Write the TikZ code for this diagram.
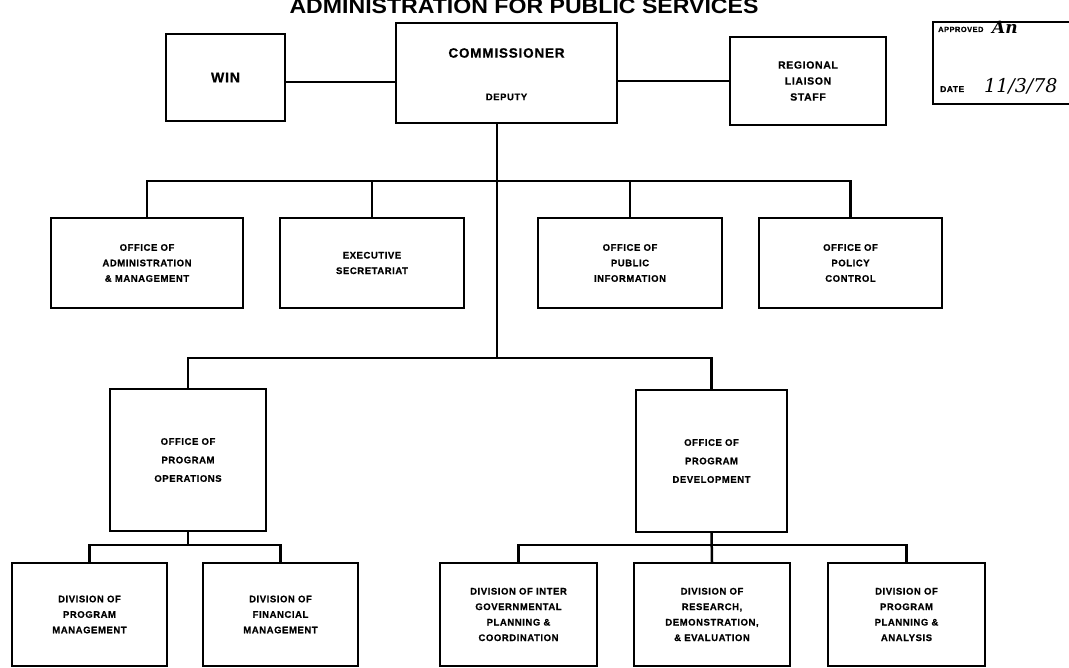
\documentclass[tikz,border=0pt]{standalone}
\usepackage{fontspec}
\setmainfont{Liberation Sans}
\newfontfamily\bxfont[LetterSpace=6.0]{Liberation Sans}
\newfontfamily\handfont{DejaVu Serif}
\newcommand{\heavy}{\bxfont\bfseries\addfontfeature{FakeBold=0.6}}
\begin{document}
\begin{tikzpicture}[x=1pt,y=1pt,
  unit/.style={draw, line width=2pt, inner sep=0pt, align=center,
    font=\heavy\fontsize{9.5}{15.5}\selectfont},
  link/.style={line width=2.5pt},
  lbl/.style={inner sep=0pt, align=center}]
\useasboundingbox (0,0) rectangle (1069,-668);
\fill[white] (0,0) rectangle (1069,-668);

% title
\node[lbl, anchor=base] (title) at (524,-14)
  {\scalebox{1.1}[1]{\fontsize{21}{21}\selectfont\bfseries ADMINISTRATION FOR PUBLIC SERVICES}};

% approval box
\node[draw, line width=2pt, minimum width=150pt, minimum height=82pt] (appr) at (1008,-63) {};
\node[lbl, anchor=base west, font=\heavy\fontsize{7.5}{9}\selectfont] (apprt) at (938,-32) {APPROVED};
\node[lbl, anchor=base west, font=\handfont\itshape\bfseries\fontsize{17}{17}\selectfont] (sig) at (992,-34) {An};
\node[lbl, anchor=base west, font=\heavy\fontsize{8.5}{9}\selectfont] (datet) at (940,-92) {DATE};
\node[lbl, anchor=base west, font=\handfont\itshape\fontsize{19}{19}\selectfont] (date) at (984,-93) {11/3/78};

% top row
\node[unit, minimum width=221pt, minimum height=100pt] (comm) at (506.5,-73) {};
\node[lbl, font=\heavy\fontsize{13.5}{14}\selectfont] (commt) at (506.5,-53) {COMMISSIONER};
\node[lbl, font=\heavy\fontsize{9.5}{10}\selectfont] (dep) at (506.5,-97) {DEPUTY};
\node[unit, minimum width=119pt, minimum height=87pt, font=\heavy\fontsize{14}{14}\selectfont] (win) at (225.5,-77.5) {WIN};
\node[unit, minimum width=156pt, minimum height=88pt, font=\heavy\fontsize{10.5}{16}\selectfont] (rls) at (808,-81) {REGIONAL\\LIAISON\\STAFF};

% second row
\node[unit, minimum width=192pt, minimum height=90pt] (oam) at (147,-263) {OFFICE OF\\ADMINISTRATION\\\& MANAGEMENT};
\node[unit, minimum width=184pt, minimum height=90pt] (es) at (372,-263) {EXECUTIVE\\SECRETARIAT};
\node[unit, minimum width=184pt, minimum height=90pt] (opi) at (630,-263) {OFFICE OF\\PUBLIC\\INFORMATION};
\node[unit, minimum width=183pt, minimum height=90pt] (opc) at (850.5,-263) {OFFICE OF\\POLICY\\CONTROL};

% third row
\node[unit, minimum width=156pt, minimum height=142pt, font=\heavy\fontsize{9.5}{18.5}\selectfont] (opo) at (188,-460) {OFFICE OF\\PROGRAM\\OPERATIONS};
\node[unit, minimum width=151pt, minimum height=142pt, font=\heavy\fontsize{9.5}{18.5}\selectfont] (opd) at (711.5,-461) {OFFICE OF\\PROGRAM\\DEVELOPMENT};

% bottom row
\node[unit, minimum width=155pt, minimum height=103pt] (dpm) at (89.5,-614.5) {DIVISION OF\\PROGRAM\\MANAGEMENT};
\node[unit, minimum width=155pt, minimum height=103pt] (dfm) at (280.5,-614.5) {DIVISION OF\\FINANCIAL\\MANAGEMENT};
\node[unit, minimum width=157pt, minimum height=103pt] (dig) at (518.5,-614.5) {DIVISION OF INTER\\GOVERNMENTAL\\PLANNING \&\\COORDINATION};
\node[unit, minimum width=156pt, minimum height=103pt] (dre) at (712,-614.5) {DIVISION OF\\RESEARCH,\\DEMONSTRATION,\\\& EVALUATION};
\node[unit, minimum width=157pt, minimum height=103pt] (dpp) at (906.5,-614.5) {DIVISION OF\\PROGRAM\\PLANNING \&\\ANALYSIS};

% bus coordinates
\coordinate (b1) at (497,-181);
\coordinate (b2) at (497,-358);
\coordinate (b3) at (497,-545);

% connectors
\draw[link] ([yshift=-4.5pt]win.east) -- ([yshift=-4.5pt]win.east -| comm.west);
\draw[link] (rls.west) -- (rls.west -| comm.east);
\draw[link] ([xshift=-9.5pt]comm.south) -- (b2);
\draw[link] (oam.north) |- (b1) -| (opc.north);
\draw[link] (es.north) -- (es.north |- b1);
\draw[link] (opi.north) -- (opi.north |- b1);
\draw[link] (opo.north) |- (b2) -| (opd.north);
\draw[link] (opo.south) -- (opo.south |- b3);
\draw[link] (dpm.north) |- (opo.south |- b3) -| (dfm.north);
\draw[link] (opd.south) -- (dre.north);
\draw[link] (dig.north) |- (dre.north |- b3) -| (dpp.north);
\end{tikzpicture}
\end{document}
